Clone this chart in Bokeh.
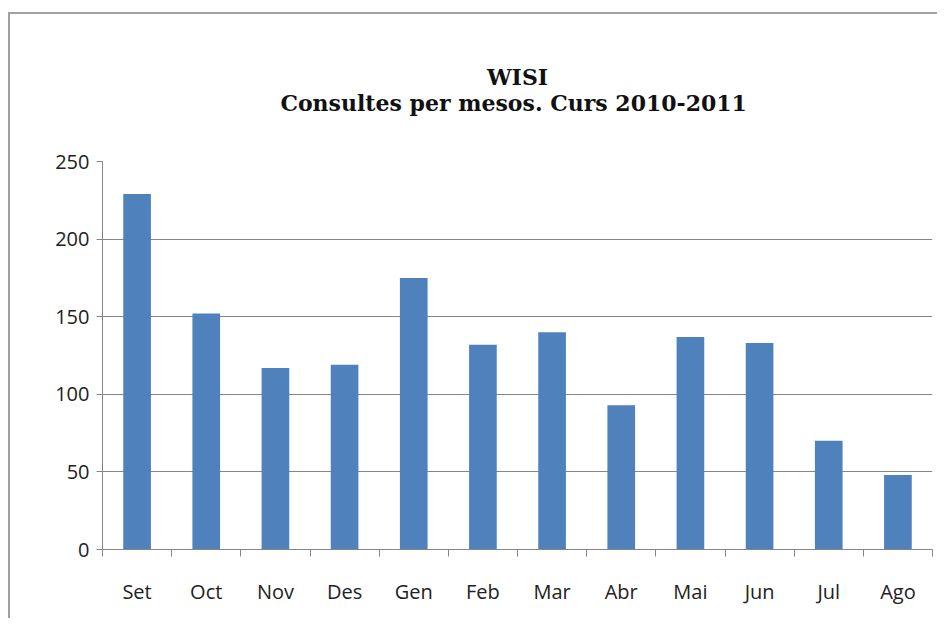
from bokeh.plotting import figure
from bokeh.models import Range1d, FixedTicker, Title, ColumnDataSource
from bokeh.embed import file_html
from bokeh.resources import INLINE

months = ["Set", "Oct", "Nov", "Des", "Gen", "Feb", "Mar", "Abr", "Mai", "Jun", "Jul", "Ago"]
consultes = [229, 152, 117, 119, 175, 132, 140, 93, 137, 133, 70, 48]
y_ticks = [0, 50, 100, 150, 200, 250]
title_line1 = "WISI"
title_line2 = "Consultes per  mesos. Curs 2010-2011"

idx = list(range(len(months)))
src = ColumnDataSource(dict(x=idx, top=consultes, month=months))

p = figure(width=929, height=606, output_backend="svg", toolbar_location=None,
           x_range=Range1d(-0.5, len(months) - 0.5), y_range=Range1d(0, 250),
           min_border_left=92, min_border_right=7, min_border_top=147, min_border_bottom=71)
p.styles = {"margin-left": "8px", "margin-top": "12px",
            "border-left": "2px solid #a0a0a0", "border-top": "2px solid #a0a0a0"}
p.background_fill_color = "white"
p.border_fill_color = "white"
p.outline_line_color = None

p.vbar(x="x", top="top", width=0.4, source=src, fill_color="#4F81BD", line_color=None)

gray = "#868686"
p.yaxis.ticker = FixedTicker(ticks=y_ticks)
p.yaxis.axis_line_color = gray
p.yaxis.major_tick_line_color = gray
p.yaxis.major_tick_out = 6
p.yaxis.major_tick_in = 0
p.yaxis.minor_tick_line_color = None
p.yaxis.major_label_text_font = "Open Sans"
p.yaxis.major_label_text_font_size = "20px"
p.yaxis.major_label_text_color = "#222222"
p.yaxis.major_label_standoff = 7

p.xaxis.ticker = FixedTicker(ticks=idx, minor_ticks=[i - 0.5 for i in range(len(months) + 1)])
p.xaxis.major_label_overrides = {i: m for i, m in zip(idx, months)}
p.xaxis.axis_line_color = gray
p.xaxis.major_tick_line_color = None
p.xaxis.major_tick_out = 0
p.xaxis.major_tick_in = 0
p.xaxis.minor_tick_line_color = gray
p.xaxis.minor_tick_out = 7
p.xaxis.minor_tick_in = 0
p.xaxis.major_label_text_font = "Open Sans"
p.xaxis.major_label_text_font_size = "20px"
p.xaxis.major_label_text_color = "#222222"
p.xaxis.major_label_standoff = 21

p.xgrid.grid_line_color = None
p.ygrid.ticker = FixedTicker(ticks=y_ticks)
p.ygrid.grid_line_color = gray
p.ygrid.grid_line_width = 1

p.add_layout(Title(text=title_line1 + "\n" + title_line2, align="center", text_align="center",
                   text_font="DejaVu Serif", text_font_style="bold", text_font_size="22px",
                   text_color="#111111", standoff=92), "above")

open("out.html", "w").write(file_html(p, INLINE))
